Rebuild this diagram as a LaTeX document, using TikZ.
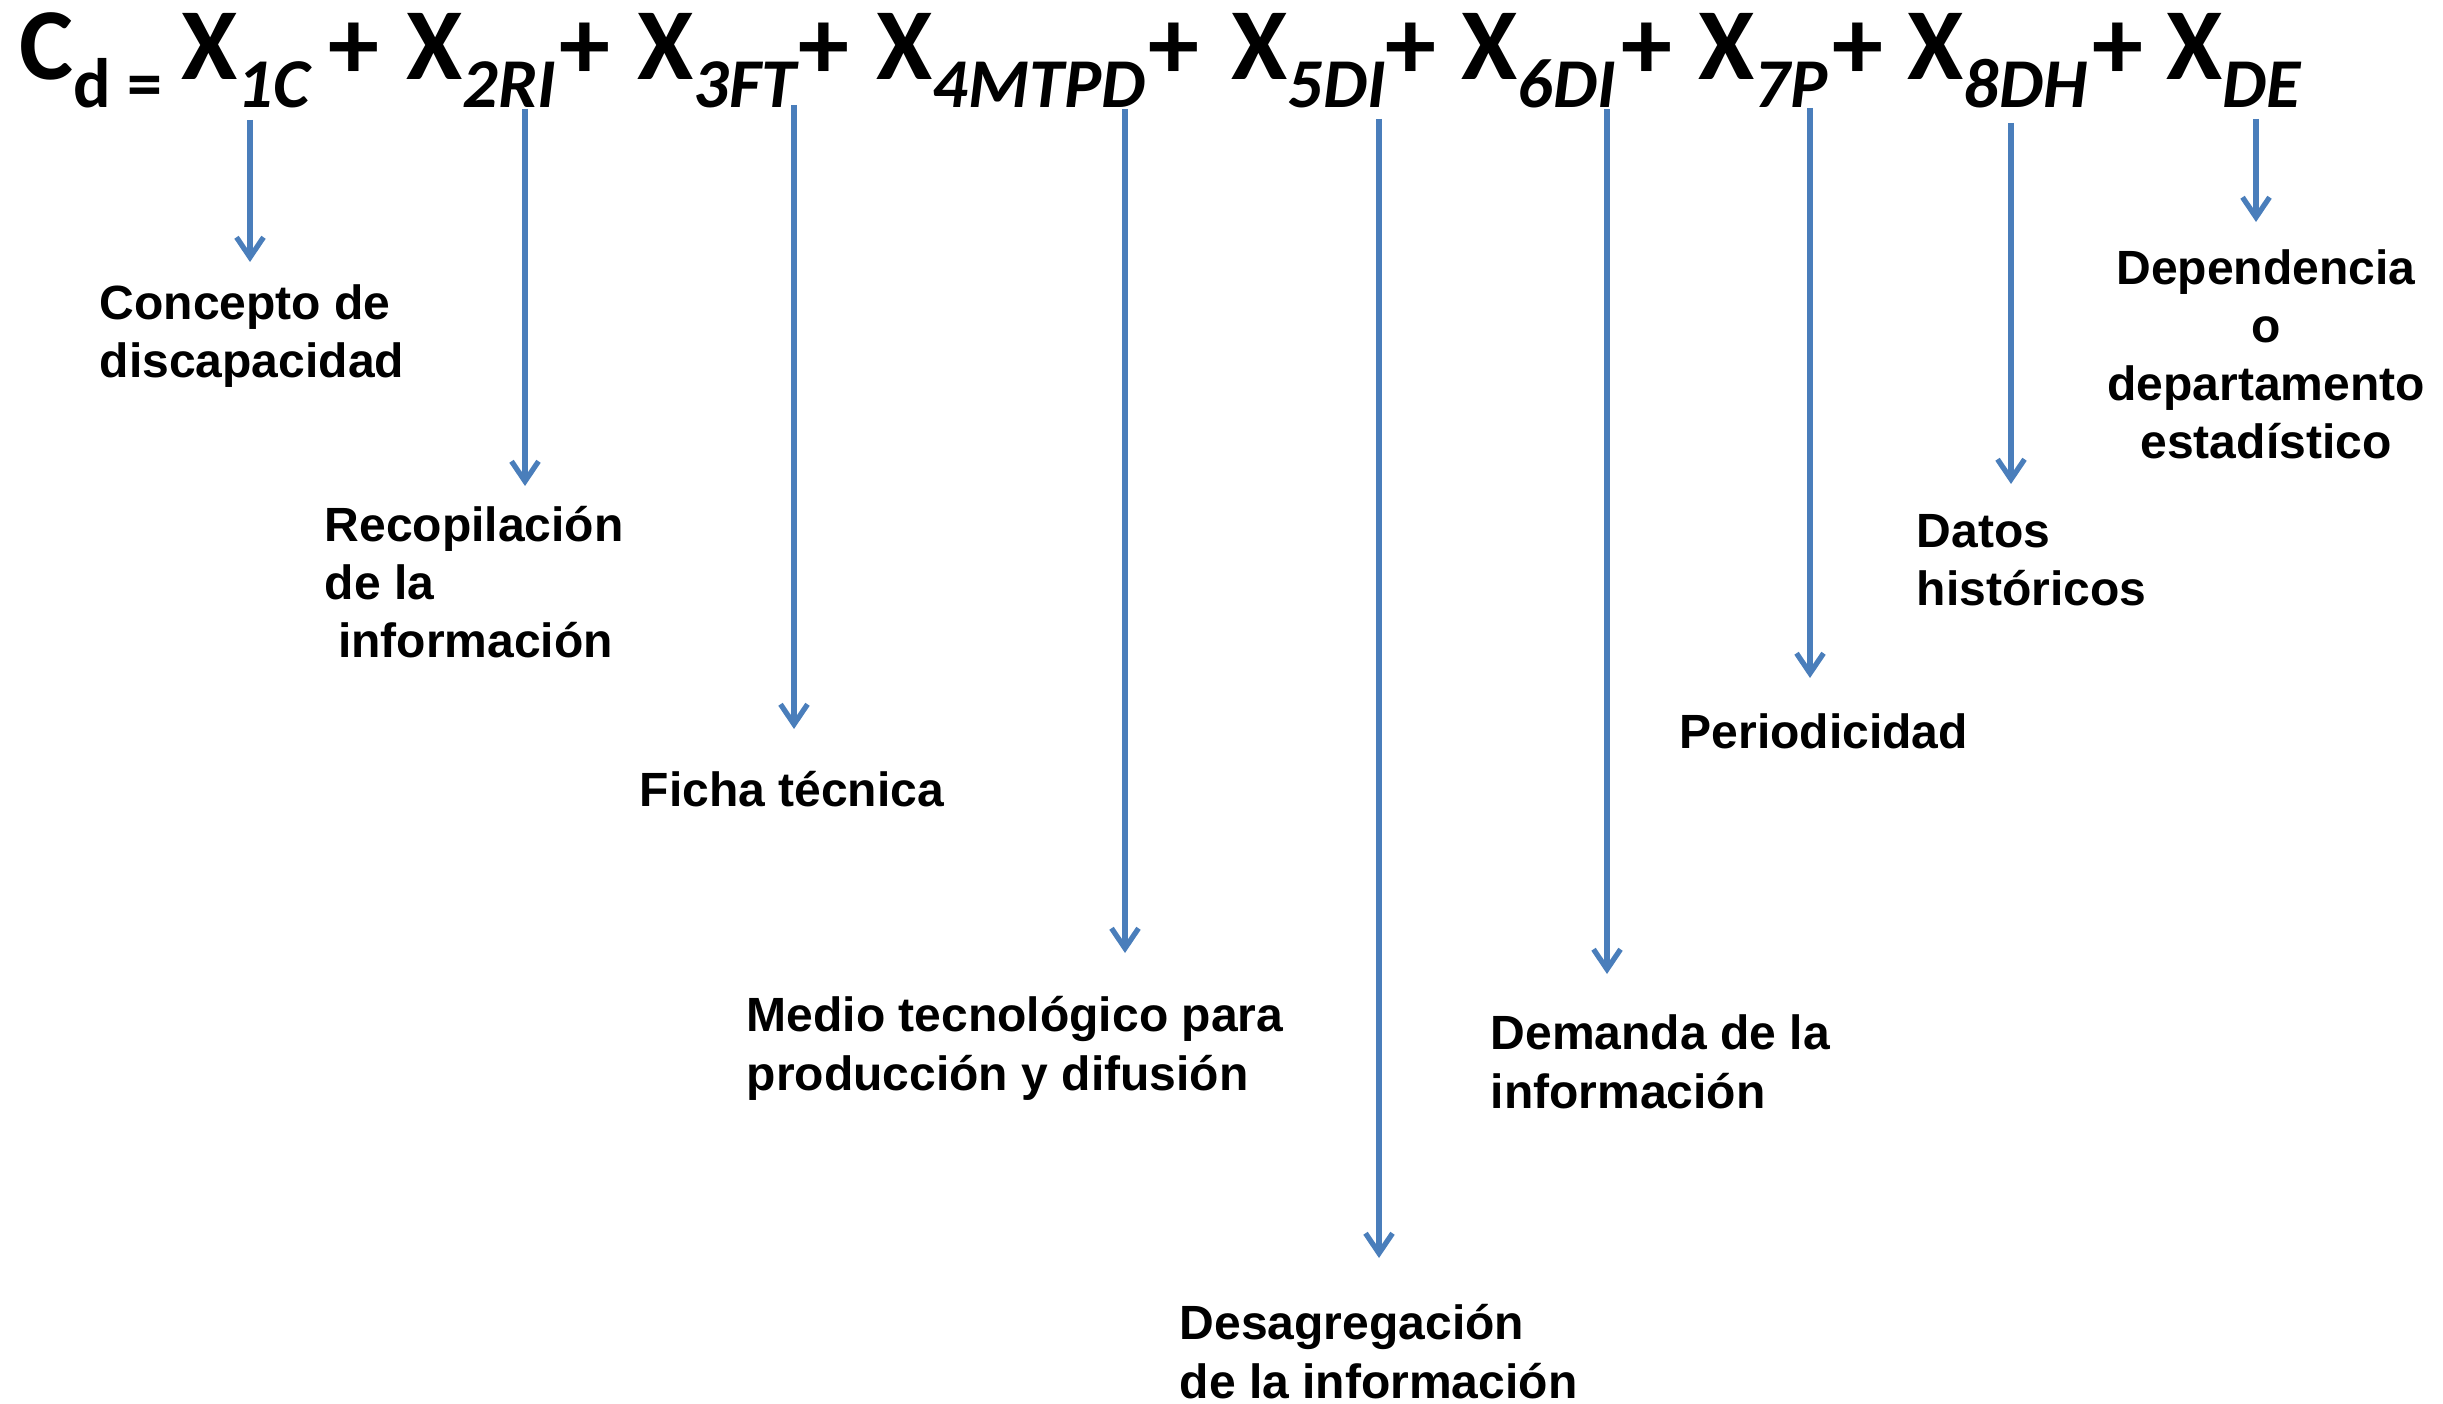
\documentclass[tikz,border=0pt]{standalone}
\usepackage{fontspec}
\setmainfont{Liberation Sans}
\newfontfamily\calfont{Carlito}
\usetikzlibrary{arrows.meta}
\definecolor{arrowblue}{HTML}{4A7EBB}
\newcommand{\subpart}[1]{\raisebox{-0.27cm}{\fontsize{19.9}{24}\selectfont #1}}
\newcommand{\term}[1]{X\subpart{\itshape #1}}
\tikzset{
	bigsym/.style={inner sep=0pt, font=\calfont\bfseries\fontsize{29}{35}\selectfont},
	termtext/.style={bigsym, anchor=base west},
	plustext/.style={bigsym, anchor=base},
	desctext/.style={anchor=base west, inner sep=0pt, align=left, font=\bfseries\fontsize{13.66}{16.5}\selectfont},
	pointer/.style={draw=arrowblue, line width=1.5pt, -{Straight Barb[length=0.2cm,width=0.27cm]}}
}
\begin{document}
\begin{tikzpicture}[x=0.01cm,y=-0.01cm]
			%%%%% START %%%%%
			\useasboundingbox (0,0) rectangle (2443,1404);
			
			\node[termtext] (cd) at (19,80) {C\subpart{d =}};
			
			\node[termtext] (x1) at (181,80) {\term{1C}};
			\node[plustext] (p1) at (354,80) {+};
			\node[termtext] (x2) at (406,80) {\term{2RI}};
			\node[plustext] (p2) at (585,80) {+};
			\node[termtext] (x3) at (637,80) {\term{3FT}};
			\node[plustext] (p3) at (824,80) {+};
			\node[termtext] (x4) at (876,80) {\term{4MTPD}};
			\node[plustext] (p4) at (1174,80) {+};
			\node[termtext] (x5) at (1231,80) {\term{5DI}};
			\node[plustext] (p5) at (1411,80) {+};
			\node[termtext] (x6) at (1461,80) {\term{6DI}};
			\node[plustext] (p6) at (1647,80) {+};
			\node[termtext] (x7) at (1698,80) {\term{7P}};
			\node[plustext] (p7) at (1858,80) {+};
			\node[termtext] (x8) at (1907,80) {\term{8DH}};
			\node[plustext] (p8) at (2118,80) {+};
			\node[termtext] (x9) at (2166,80) {\term{DE}};
			
			% labels (placed by the baseline of their last line)
			\node[desctext] (concepto) at (99,378) {Concepto de\\discapacidad};
			\node[desctext] (recop) at (324,658) {Recopilación\\de la\\\ información};
			\node[desctext] (ficha) at (639,807) {Ficha técnica};
			\node[desctext] (medio) at (746,1090) {Medio tecnológico para\\producción y difusión};
			\node[desctext] (desag) at (1179,1398) {Desagregación\\de la información};
			\node[desctext] (demanda) at (1490,1108) {Demanda de la\\información};
			\node[desctext] (period) at (1679,749) {Periodicidad};
			\node[desctext] (datos) at (1916,606) {Datos\\históricos};
			\node[desctext, anchor=base, align=center] (depend) at (2266,459) {Dependencia\\o\\departamento\\estadístico};
			
			% arrows
			\coordinate (s1) at (250,120);  \coordinate (e1) at (250,262);
			\coordinate (s2) at (525,109);  \coordinate (e2) at (525,486);
			\coordinate (s3) at (794,105);  \coordinate (e3) at (794,729);
			\coordinate (s4) at (1125,109); \coordinate (e4) at (1125,953);
			\coordinate (s5) at (1379,119); \coordinate (e5) at (1379,1258);
			\coordinate (s6) at (1607,109); \coordinate (e6) at (1607,974);
			\coordinate (s7) at (1810,108); \coordinate (e7) at (1810,678);
			\coordinate (s8) at (2011,123); \coordinate (e8) at (2011,484);
			\coordinate (s9) at (2256,119); \coordinate (e9) at (2256,222);
			
			\draw[pointer] (s1) -- (e1);
			\draw[pointer] (s2) -- (e2);
			\draw[pointer] (s3) -- (e3);
			\draw[pointer] (s4) -- (e4);
			\draw[pointer] (s5) -- (e5);
			\draw[pointer] (s6) -- (e6);
			\draw[pointer] (s7) -- (e7);
			\draw[pointer] (s8) -- (e8);
			\draw[pointer] (s9) -- (e9);
			
			%%%%% END %%%%%
\end{tikzpicture}
\end{document}
